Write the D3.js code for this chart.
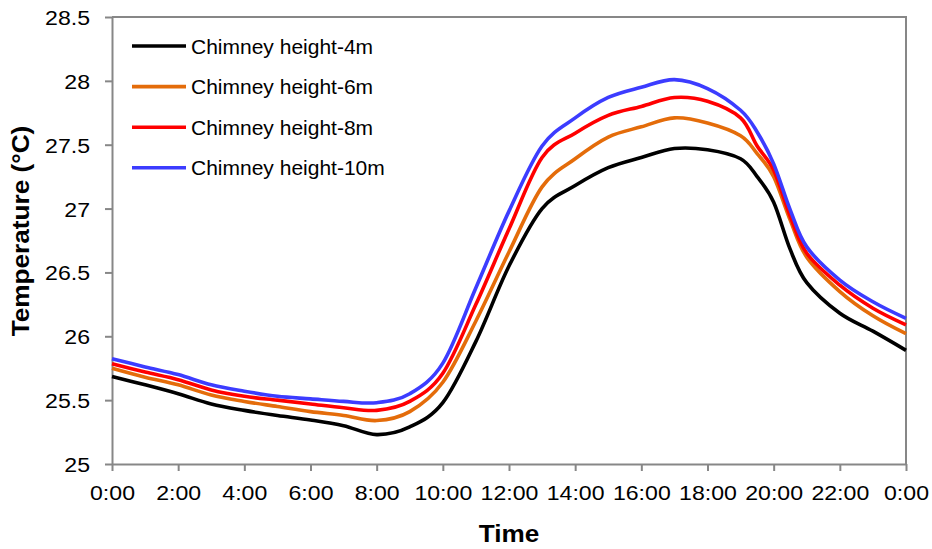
<!DOCTYPE html>
<html>
<head>
<meta charset="utf-8">
<script src="https://cdn.jsdelivr.net/npm/d3@7"></script>
<style>
  html, body { margin: 0; padding: 0; background: #fff; }
  svg { display: block; font-family: "Liberation Sans", Arial, sans-serif; }
</style>
</head>
<body>
<svg id="chart" width="932" height="549"></svg>
<script>
// Hour of day for each sample (24 = midnight of the next day)
const hours = [0, 1, 2, 3, 4, 5, 6, 7, 8, 9, 10, 11, 12, 13, 14, 15, 16, 17, 18, 19, 19.5, 20, 20.5, 21, 22, 23, 24];

// Indoor temperature (°C) for each chimney height
const temp4m  = [25.685, 25.62, 25.55, 25.47, 25.42, 25.38, 25.345, 25.30, 25.23, 25.29, 25.48, 25.96, 26.55, 27.00, 27.18, 27.32, 27.40, 27.47, 27.46, 27.39, 27.25, 27.05, 26.68, 26.42, 26.18, 26.04, 25.89];
const temp6m  = [25.75, 25.68, 25.62, 25.54, 25.49, 25.45, 25.41, 25.38, 25.34, 25.41, 25.64, 26.12, 26.66, 27.17, 27.39, 27.56, 27.64, 27.71, 27.67, 27.57, 27.43, 27.25, 26.91, 26.62, 26.35, 26.16, 26.02];
const temp8m  = [25.785, 25.72, 25.66, 25.58, 25.53, 25.50, 25.47, 25.44, 25.42, 25.49, 25.71, 26.25, 26.84, 27.40, 27.59, 27.73, 27.80, 27.87, 27.84, 27.71, 27.49, 27.30, 26.94, 26.65, 26.40, 26.22, 26.09];
const temp10m = [25.825, 25.76, 25.70, 25.62, 25.57, 25.53, 25.51, 25.49, 25.48, 25.55, 25.79, 26.38, 26.98, 27.49, 27.71, 27.87, 27.95, 28.01, 27.94, 27.77, 27.60, 27.35, 26.99, 26.70, 26.44, 26.27, 26.14];

const seriesNames = ["Chimney height-4m", "Chimney height-6m", "Chimney height-8m", "Chimney height-10m"];
const seriesColors = ["#000000", "#e46c0a", "#ff0000", "#3c3cff"];
const seriesValues = [temp4m, temp6m, temp8m, temp10m];

const xTickHours = [0, 2, 4, 6, 8, 10, 12, 14, 16, 18, 20, 22, 24];
const xTickLabels = ["0:00", "2:00", "4:00", "6:00", "8:00", "10:00", "12:00", "14:00", "16:00", "18:00", "20:00", "22:00", "0:00"];
const yTicks = [25, 25.5, 26, 26.5, 27, 27.5, 28, 28.5];

const margin = { left: 112, top: 17, right: 26, bottom: 85 };
const W = 932, H = 549;
const iw = W - margin.left - margin.right;
const ih = H - margin.top - margin.bottom;
const axisColor = "#878787";

const svg = d3.select("#chart");
const g = svg.append("g").attr("transform", `translate(${margin.left},${margin.top})`);

const x = d3.scaleLinear().domain([0, 24]).range([0, iw]);
const y = d3.scaleLinear().domain([25, 28.5]).range([ih, 0]);

// Frame on the top and right edges
g.append("path")
  .attr("d", `M0,0H${iw}V${ih}`)
  .attr("fill", "none")
  .attr("stroke", axisColor)
  .attr("stroke-width", 2);

// X axis
const xAxis = g.append("g")
  .attr("transform", `translate(0,${ih})`)
  .call(d3.axisBottom(x).tickValues(xTickHours)
    .tickFormat((d, i) => xTickLabels[i]).tickSize(7).tickSizeOuter(0));
xAxis.select(".domain").attr("stroke", axisColor).attr("stroke-width", 2);
xAxis.selectAll(".tick line").attr("stroke", axisColor).attr("stroke-width", 2);
xAxis.selectAll(".tick text")
  .attr("y", 0).attr("dy", 0)
  .attr("transform", "translate(0,36) scale(1.1,1)")
  .attr("font-size", 21).attr("fill", "#000")
  .attr("font-family", "Liberation Sans, Arial, sans-serif");

// Y axis
const yAxis = g.append("g")
  .call(d3.axisLeft(y).tickValues(yTicks).tickFormat(d3.format("")).tickSize(7).tickSizeOuter(0));
yAxis.select(".domain").attr("stroke", axisColor).attr("stroke-width", 2);
yAxis.selectAll(".tick line").attr("stroke", axisColor).attr("stroke-width", 2);
yAxis.selectAll(".tick text")
  .attr("x", 0).attr("dy", "0.36em")
  .attr("transform", "translate(-22,0) scale(1.1,1)")
  .attr("font-size", 21).attr("fill", "#000")
  .attr("font-family", "Liberation Sans, Arial, sans-serif");

// Temperature curves (uniform Catmull-Rom smoothing)
const line = d3.line()
  .x(d => x(d[0]))
  .y(d => y(d[1]))
  .curve(d3.curveCatmullRom.alpha(0));

seriesValues.forEach((vals, i) => {
  g.append("path")
    .datum(hours.map((h, k) => [h, vals[k]]))
    .attr("d", line)
    .attr("fill", "none")
    .attr("stroke", seriesColors[i])
    .attr("stroke-width", 3.6)
    .attr("stroke-linejoin", "round");
});

// Legend
const legend = svg.append("g").attr("transform", "translate(132,46)");
seriesNames.forEach((name, i) => {
  const row = legend.append("g").attr("transform", `translate(0,${i * 40.6})`);
  row.append("line")
    .attr("x1", 0).attr("x2", 54).attr("y1", 0).attr("y2", 0)
    .attr("stroke", seriesColors[i]).attr("stroke-width", 3.6);
  row.append("text")
    .attr("x", 59).attr("dy", "0.36em")
    .attr("font-size", 21).attr("fill", "#000")
    .text(name);
});

// Axis titles
svg.append("text")
  .attr("transform", `translate(${margin.left + x(12)},542) scale(1.09,1)`)
  .attr("text-anchor", "middle")
  .attr("font-size", 24).attr("font-weight", "bold")
  .text("Time");

svg.append("text")
  .attr("transform", "translate(29,231) rotate(-90) scale(1.09,1)")
  .attr("text-anchor", "middle")
  .attr("font-size", 24).attr("font-weight", "bold")
  .text("Temperature (°C)");
</script>
</body>
</html>
